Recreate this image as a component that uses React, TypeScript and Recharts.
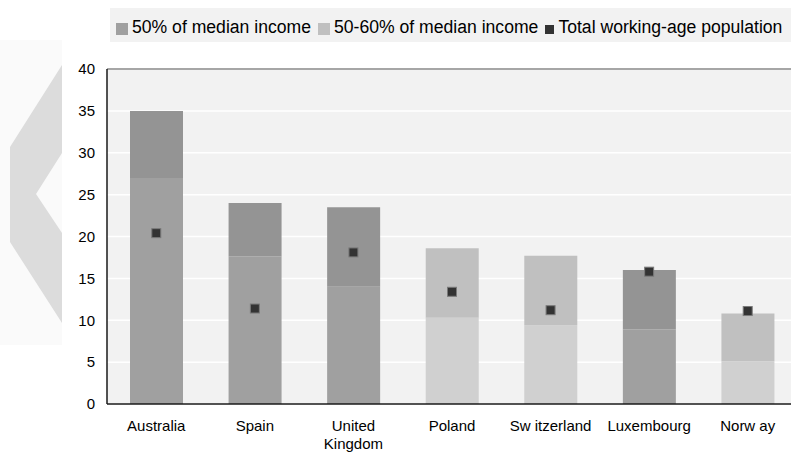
import React from 'react';
import {
  ComposedChart,
  Bar,
  Line,
  Cell,
  XAxis,
  YAxis,
  CartesianGrid,
  ReferenceLine,
  Legend,
  Text,
} from 'recharts';

// Poverty rates by country, % of working-age population
const CATEGORIES = ['Australia', 'Spain', 'United Kingdom', 'Poland', 'Sw itzerland', 'Luxembourg', 'Norw ay'];
const BELOW_50 = [27.0, 17.6, 14.0, 10.3, 9.4, 8.9, 5.1];
const BAND_50_60 = [8.0, 6.4, 9.5, 8.3, 8.3, 7.1, 5.7];
const WORKING_AGE = [20.4, 11.4, 18.1, 13.4, 11.2, 15.8, 11.1];
const Y_TICKS = [0, 5, 10, 15, 20, 25, 30, 35, 40];

// which countries are drawn in the darker shade
const SHADE = ['dark', 'dark', 'dark', 'light', 'light', 'dark', 'light'];

const LEGEND_ITEMS = [
  { label: '50% of median income', color: '#a0a0a0', size: 12 },
  { label: '50-60% of median income', color: '#c0c0c0', size: 12 },
  { label: 'Total working-age population', color: '#333333', size: 9 },
];

const COLORS: Record<string, { low: string; high: string }> = {
  dark: { low: '#a0a0a0', high: '#949494' },
  light: { low: '#d0d0d0', high: '#c0c0c0' },
};

const FONT = "Arial, 'Liberation Sans', sans-serif";

const rows = CATEGORIES.map((name, i) => ({
  name,
  below50: BELOW_50[i],
  band5060: BAND_50_60[i],
  workingAge: WORKING_AGE[i],
}));

const renderLegend = () => (
  <div
    style={{
      display: 'flex',
      alignItems: 'center',
      height: 34,
      boxSizing: 'border-box',
      paddingLeft: 6,
      paddingTop: 4,
      background: '#f2f2f2',
      fontFamily: FONT,
      fontSize: 17.6,
      color: '#000',
      whiteSpace: 'nowrap',
    }}
  >
    {LEGEND_ITEMS.map((item) => (
      <span key={item.label} style={{ display: 'flex', alignItems: 'center', marginRight: 7 }}>
        <span
          style={{
            display: 'inline-block',
            width: item.size,
            height: item.size,
            background: item.color,
            marginRight: 4,
            position: 'relative',
            top: 2,
          }}
        />
        {item.label}
      </span>
    ))}
  </div>
);

const CategoryTick = (props: any) => {
  const { x, y, payload } = props;
  return (
    <Text
      x={x}
      y={y}
      width={90}
      textAnchor="middle"
      verticalAnchor="start"
      fontSize={15}
      fontFamily={FONT}
      fill="#000"
      lineHeight={18}
    >
      {payload.value}
    </Text>
  );
};

const renderSquare = (props: any) => {
  const { cx, cy, index } = props;
  if (cx == null || cy == null) return <g key={`sq-${index}`} />;
  return (
    <rect
      key={`sq-${index}`}
      x={cx - 4.5}
      y={cy - 4.5}
      width={9}
      height={9}
      fill="#333333"
      stroke="#7a7a7a"
      strokeWidth={1}
    />
  );
};

const App: React.FC = () => {
  return (
    <div
      style={{
        position: 'fixed',
        left: 0,
        top: 0,
        width: 791,
        height: 452,
        overflow: 'hidden',
        background: '#fff',
      }}
    >
      {/* background decoration on the left */}
      <svg width={791} height={452} style={{ position: 'absolute', left: 0, top: 0 }}>
        <rect x={0} y={40} width={62} height={305} fill="#fafafa" />
        <polygon points="62,65 10,147 10,242 62,323 62,233 36,194 62,153" fill="#dcdcdc" />
      </svg>
      <div style={{ position: 'absolute', left: 0, top: 0 }}>
        <ComposedChart
          width={800}
          height={452}
          data={rows}
          margin={{ top: 69, right: 3, left: 0, bottom: 8 }}
        >
          <CartesianGrid vertical={false} stroke="#ffffff" strokeWidth={1.5} fill="#f2f2f2" />
          <XAxis
            dataKey="name"
            tick={<CategoryTick />}
            tickLine={false}
            tickSize={6}
            tickMargin={10}
            height={40}
            interval={0}
            axisLine={{ stroke: '#1a1a1a', strokeWidth: 1.5 }}
          />
          <YAxis
            width={107}
            domain={[0, 40]}
            ticks={Y_TICKS}
            tickLine={false}
            tickSize={6}
            tickMargin={6}
            tick={{ fontSize: 15, fontFamily: FONT, fill: '#000' }}
            axisLine={{ stroke: '#1a1a1a', strokeWidth: 1.5 }}
          />
          <ReferenceLine y={40} stroke="#a6a6a6" strokeWidth={2} />
          <Legend
            verticalAlign="middle"
            align="center"
            layout="horizontal"
            content={renderLegend}
            wrapperStyle={{ top: 8, left: 110, width: 681, height: 34 }}
          />
          <Bar dataKey="below50" name="50% of median income" stackId="a" barSize={53} isAnimationActive={false}>
            {rows.map((_, i) => (
              <Cell key={`low-${i}`} fill={COLORS[SHADE[i]].low} />
            ))}
          </Bar>
          <Bar dataKey="band5060" name="50-60% of median income" stackId="a" barSize={53} isAnimationActive={false}>
            {rows.map((_, i) => (
              <Cell key={`high-${i}`} fill={COLORS[SHADE[i]].high} />
            ))}
          </Bar>
          <Line
            dataKey="workingAge"
            name="Total working-age population"
            stroke="none"
            dot={renderSquare}
            activeDot={false}
            isAnimationActive={false}
          />
        </ComposedChart>
      </div>
    </div>
  );
};

export default App;
